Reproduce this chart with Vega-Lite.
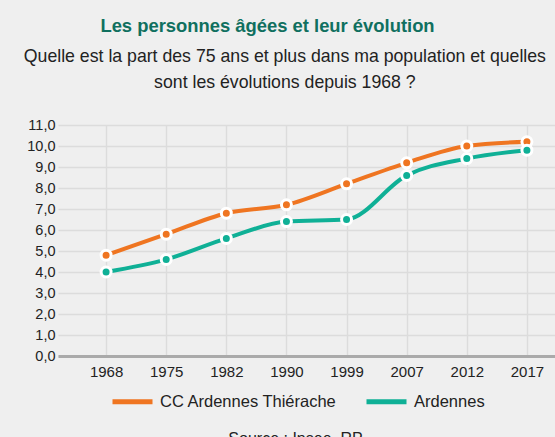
{
  "$schema": "https://vega.github.io/schema/vega-lite/v6.json",
  "autosize": {"type": "none"},
  "padding": {"left": 58, "top": 125, "right": 0, "bottom": 81},
  "width": 517,
  "height": 231,
  "background": "#efefef",
  "title": {
    "text": ["Quelle est la part des 75 ans et plus dans ma population et quelles", "sont les évolutions depuis 1968 ?"],
    "anchor": "middle",
    "frame": "bounds",
    "font": "Liberation Sans",
    "fontSize": 17.7,
    "fontWeight": "normal",
    "color": "#222222",
    "lineHeight": 26,
    "offset": -76,
    "dx": -16
  },
  "config": {
    "view": {"stroke": null},
    "font": "Liberation Sans"
  },
  "data": {
    "values": [
      {"annee": "1968", "zone": "CC Ardennes Thiérache", "part": 4.8},
      {"annee": "1975", "zone": "CC Ardennes Thiérache", "part": 5.8},
      {"annee": "1982", "zone": "CC Ardennes Thiérache", "part": 6.8},
      {"annee": "1990", "zone": "CC Ardennes Thiérache", "part": 7.2},
      {"annee": "1999", "zone": "CC Ardennes Thiérache", "part": 8.2},
      {"annee": "2007", "zone": "CC Ardennes Thiérache", "part": 9.2},
      {"annee": "2012", "zone": "CC Ardennes Thiérache", "part": 10.0},
      {"annee": "2017", "zone": "CC Ardennes Thiérache", "part": 10.2},
      {"annee": "1968", "zone": "Ardennes", "part": 4.0},
      {"annee": "1975", "zone": "Ardennes", "part": 4.6},
      {"annee": "1982", "zone": "Ardennes", "part": 5.6},
      {"annee": "1990", "zone": "Ardennes", "part": 6.4},
      {"annee": "1999", "zone": "Ardennes", "part": 6.5},
      {"annee": "2007", "zone": "Ardennes", "part": 8.6},
      {"annee": "2012", "zone": "Ardennes", "part": 9.4},
      {"annee": "2017", "zone": "Ardennes", "part": 9.8}
    ]
  },
  "encoding": {
    "x": {
      "field": "annee",
      "type": "ordinal",
      "scale": {"type": "point", "padding": 0.8},
      "axis": {
        "title": "Source : Insee, RP",
        "titleFontSize": 16,
        "titleFontWeight": "normal",
        "titleColor": "#222222",
        "titleX": 237,
        "titleY": 87,
        "titleAlign": "center",
        "titleBaseline": "alphabetic",
        "labelAngle": 0,
        "labelFontSize": 15,
        "labelColor": "#222222",
        "labelPadding": 8,
        "ticks": false,
        "domainColor": "#aaaaaa",
        "domainWidth": 3,
        "grid": true,
        "gridColor": "#dcdcdc",
        "gridWidth": 1.5
      }
    },
    "y": {
      "field": "part",
      "type": "quantitative",
      "scale": {"domain": [0, 11]},
      "axis": {
        "title": "Les personnes âgées et leur évolution",
        "titleFont": "Liberation Sans",
        "titleFontSize": 18.4,
        "titleFontWeight": "bold",
        "titleColor": "#10705f",
        "titleAngle": 0,
        "titleAlign": "center",
        "titleBaseline": "middle",
        "titleX": 209,
        "titleY": -100,
        "values": [0,1,2,3,4,5,6,7,8,9,10,11],
        "labelExpr": "replace(format(datum.value, '.1f'), '.', ',')",
        "labelFontSize": 14.5,
        "labelColor": "#222222",
        "labelPadding": 3,
        "ticks": false,
        "domain": false,
        "gridColor": "#dcdcdc",
        "gridWidth": 1.5
      }
    },
    "color": {
      "field": "zone",
      "type": "nominal",
      "scale": {"domain": ["CC Ardennes Thiérache", "Ardennes"], "range": ["#ef7521", "#0fb096"]},
      "legend": {
        "title": null,
        "orient": "none",
        "direction": "horizontal",
        "legendX": 52,
        "legendY": 254,
        "symbolType": "stroke",
        "symbolSize": 1600,
        "symbolStrokeWidth": 5,
        "labelFontSize": 16.5,
        "labelLimit": 0,
        "labelColor": "#222222",
        "labelOffset": 5,
        "columnPadding": 18
      }
    }
  },
  "layer": [
    {
      "mark": {"type": "line", "interpolate": "monotone", "strokeWidth": 4}
    },
    {
      "mark": {"type": "point", "filled": true, "size": 100, "stroke": "white", "strokeWidth": 3, "opacity": 1, "strokeOpacity": 1}
    }
  ]
}
